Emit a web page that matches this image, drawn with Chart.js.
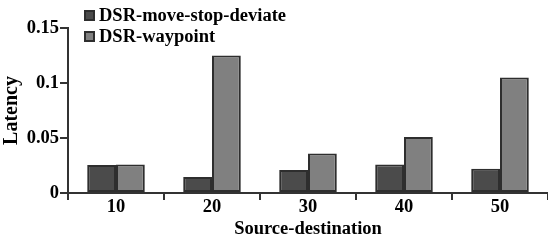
<!DOCTYPE html>
<html>
<head>
<meta charset="utf-8">
<script src="https://cdn.jsdelivr.net/npm/chart.js@4"></script>
<style>
  html, body { margin: 0; padding: 0; background: #fff; }
  #wrap { width: 548px; height: 242px; position: relative; }
  .warm { font: bold 18px "Liberation Serif"; position: absolute; left: -999px; }
</style>
</head>
<body>
<span class="warm">DSR 0.15</span>
<div id="wrap"><canvas id="chart"></canvas></div>
<script>
// data
const categories = ["10", "20", "30", "40", "50"];
const moveStopDeviate = [0.0255, 0.0145, 0.021, 0.026, 0.022];
const waypoint = [0.026, 0.125, 0.036, 0.051, 0.105];
const seriesNames = ["DSR-move-stop-deviate", "DSR-waypoint"];
const yTickLabels = ["0", "0.05", "0.1", "0.15"];

const FONT = "Liberation Serif";

// legend sits inside the plot, top left
const legendPlugin = {
  id: "boxLegend",
  afterDraw(chart) {
    const ctx = chart.ctx;
    ctx.save();
    ctx.font = "bold 18.5px 'Liberation Serif'";
    ctx.textBaseline = "middle";
    chart.data.datasets.forEach((ds, i) => {
      const y = 15 + i * 21;
      ctx.fillStyle = ds.backgroundColor;
      ctx.strokeStyle = "#2e2e2e";
      ctx.lineWidth = 2;
      ctx.fillRect(85, y - 4, 9, 9);
      ctx.strokeRect(85, y - 4, 9, 9);
      ctx.fillStyle = "#000";
      ctx.fillText(ds.label, 99, y + 1);
    });
    ctx.restore();
  }
};

function draw() {
  new Chart(document.getElementById("chart"), {
    type: "bar",
    data: {
      labels: categories,
      datasets: [
        {
          label: seriesNames[0],
          data: moveStopDeviate,
          backgroundColor: "#4b4b4b",
          borderColor: "#2e2e2e",
          borderWidth: 2,
          borderSkipped: false,
          categoryPercentage: 0.6,
          barPercentage: 1.0
        },
        {
          label: seriesNames[1],
          data: waypoint,
          backgroundColor: "#808080",
          borderColor: "#2e2e2e",
          borderWidth: 2,
          borderSkipped: false,
          categoryPercentage: 0.6,
          barPercentage: 1.0
        }
      ]
    },
    options: {
      responsive: true,
      maintainAspectRatio: false,
      animation: false,
      layout: { padding: { top: 28, right: 0, left: 0, bottom: 0 } },
      plugins: {
        legend: { display: false },
        tooltip: { enabled: false }
      },
      scales: {
        x: {
          offset: true,
          grid: {
            offset: true,
            drawOnChartArea: false,
            drawTicks: true,
            tickLength: 7,
            color: "#333",
            lineWidth: 2
          },
          border: { color: "#333", width: 2 },
          ticks: {
            color: "#000",
            padding: -4,
            maxRotation: 0,
            font: { family: FONT, size: 18.5, weight: "bold" }
          },
          title: {
            display: true,
            text: "Source-destination",
            color: "#000",
            padding: { top: 0, bottom: 2 },
            font: { family: FONT, size: 18.5, weight: "bold" }
          },
          afterFit(scale) { scale.height = 49; }
        },
        y: {
          min: 0,
          max: 0.15,
          ticks: {
            stepSize: 0.05,
            color: "#000",
            padding: 1,
            font: { family: FONT, size: 18.5, weight: "bold" },
            callback: (v, i) => yTickLabels[i]
          },
          grid: {
            drawOnChartArea: false,
            drawTicks: true,
            tickLength: 8,
            color: "#333",
            lineWidth: 2
          },
          border: { color: "#333", width: 2 },
          title: {
            display: true,
            text: "Latency",
            color: "#000",
            padding: { top: 0, bottom: 0 },
            font: { family: FONT, size: 20, weight: "bold" }
          },
          afterFit(scale) { scale.width = 68; }
        }
      }
    },
    plugins: [legendPlugin]
  });
}

document.fonts.load("bold 18px 'Liberation Serif'").then(draw, draw);
</script>
</body>
</html>
